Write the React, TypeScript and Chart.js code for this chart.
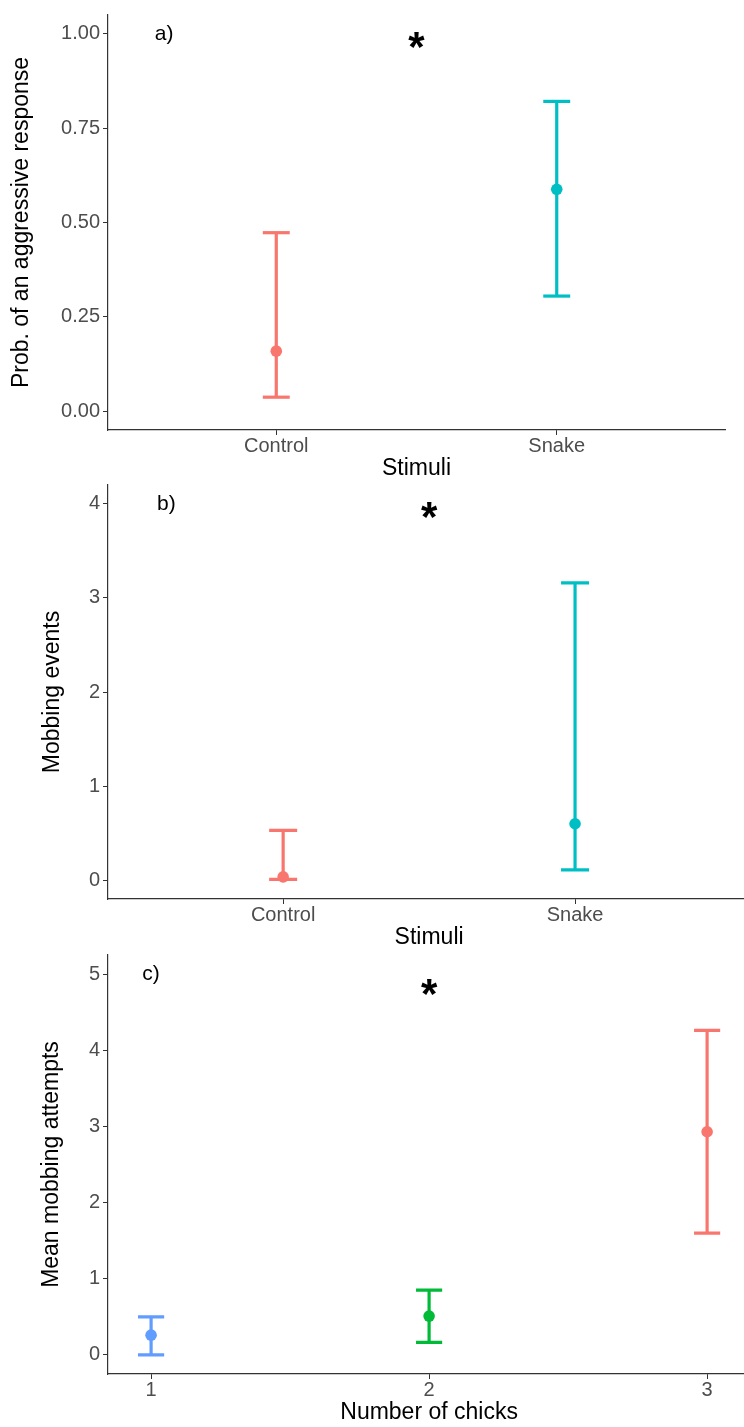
import React, { useEffect, useRef } from 'react';
import { Chart, registerables } from 'chart.js';

Chart.register(...registerables);

const FONT = "'Liberation Sans', Arial, Helvetica, sans-serif";

// ---------- Data ----------
// Panel a) Probability of an aggressive response by stimulus
const stimuliCategories = ['Control', 'Snake'];
const stimuliPositions = [1, 2];
const stimuliColors = ['#F8766D', '#00BFC4'];
const aggressiveMean = [0.159, 0.588];
const aggressiveLower = [0.037, 0.305];
const aggressiveUpper = [0.473, 0.821];
const aggressiveTicks = [0, 0.25, 0.5, 0.75, 1.0];

// Panel b) Mobbing events by stimulus
const mobbingMean = [0.035, 0.6];
const mobbingLower = [0.008, 0.11];
const mobbingUpper = [0.53, 3.16];
const mobbingTicks = [0, 1, 2, 3, 4];

// Panel c) Mean mobbing attempts by number of chicks
const chicksCategories = ['1', '2', '3'];
const chicksPositions = [1, 2, 3];
const chicksColors = ['#619CFF', '#00BA38', '#F8766D'];
const attemptsMean = [0.26, 0.51, 2.93];
const attemptsLower = [0.0, 0.165, 1.6];
const attemptsUpper = [0.5, 0.85, 4.26];
const attemptsTicks = [0, 1, 2, 3, 4, 5];

type PanelSpec = {
  top: number;
  height: number;
  width: number;
  padTop: number;
  padRight: number;
  xMin: number;
  xMax: number;
  xPos: number[];
  xLabels: string[];
  yMin: number;
  yMax: number;
  yTicks: number[];
  yDecimals: number;
  yTitle: string;
  yTitlePad: number;
  xTitle: string;
  xTitlePad: number;
  xAxisHeight: number;
  mean: number[];
  lower: number[];
  upper: number[];
  colors: string[];
  tag: string;
  tagX: number;
  tagY: number;
  starX: number;
  starY: number;
  capHalf: number;
};

const panels: PanelSpec[] = [
  {
    top: 0, height: 490, width: 744, padTop: 9, padRight: 19,
    xMin: 0.4, xMax: 2.6, xPos: stimuliPositions, xLabels: stimuliCategories,
    yMin: -0.05, yMax: 1.05, yTicks: aggressiveTicks, yDecimals: 2,
    yTitle: 'Prob. of an aggressive response', yTitlePad: 8.2,
    xTitle: 'Stimuli', xTitlePad: 7.2, xAxisHeight: 60,
    mean: aggressiveMean, lower: aggressiveLower, upper: aggressiveUpper, colors: stimuliColors,
    tag: 'a)', tagX: 0.6, tagY: 1.0, starX: 1.5, starY: 0.958, capHalf: 0.048,
  },
  {
    top: 470, height: 490, width: 756, padTop: 9, padRight: 1,
    xMin: 0.4, xMax: 2.6, xPos: stimuliPositions, xLabels: stimuliCategories,
    yMin: -0.2, yMax: 4.2, yTicks: mobbingTicks, yDecimals: 0,
    yTitle: 'Mobbing events', yTitlePad: 39.2,
    xTitle: 'Stimuli', xTitlePad: 8.2, xAxisHeight: 61,
    mean: mobbingMean, lower: mobbingLower, upper: mobbingUpper, colors: stimuliColors,
    tag: 'b)', tagX: 0.6, tagY: 4.0, starX: 1.5, starY: 3.83, capHalf: 0.048,
  },
  {
    top: 940, height: 487, width: 756, padTop: 13, padRight: 2,
    xMin: 0.845, xMax: 3.155, xPos: chicksPositions, xLabels: chicksCategories,
    yMin: -0.25, yMax: 5.25, yTicks: attemptsTicks, yDecimals: 0,
    yTitle: 'Mean mobbing attempts', yTitlePad: 38.2,
    xTitle: 'Number of chicks', xTitlePad: 0.2, xAxisHeight: 53,
    mean: attemptsMean, lower: attemptsLower, upper: attemptsUpper, colors: chicksColors,
    tag: 'c)', tagX: 1.0, tagY: 5.0, starX: 2.0, starY: 4.71, capHalf: 0.047,
  },
];

function buildChart(canvas: HTMLCanvasElement, p: PanelSpec) {
  const datasets: any[] = [];
  datasets.push({
    type: 'scatter',
    data: p.xPos.map((x, i) => ({ x, y: p.mean[i] })),
    pointRadius: 5.8,
    pointHoverRadius: 5.8,
    pointBorderWidth: 0,
    pointBackgroundColor: p.colors,
    backgroundColor: p.colors,
    borderColor: p.colors,
    showLine: false,
  });
  p.xPos.forEach((x, i) => {
    const base = {
      type: 'line',
      borderColor: p.colors[i],
      borderWidth: 3.2,
      pointRadius: 0,
      pointHoverRadius: 0,
      fill: false,
      tension: 0,
      borderCapStyle: 'butt',
    };
    datasets.push({ ...base, data: [{ x, y: p.lower[i] }, { x, y: p.upper[i] }] });
    datasets.push({ ...base, data: [{ x: x - p.capHalf, y: p.upper[i] }, { x: x + p.capHalf, y: p.upper[i] }] });
    datasets.push({ ...base, data: [{ x: x - p.capHalf, y: p.lower[i] }, { x: x + p.capHalf, y: p.lower[i] }] });
  });

  const annot = {
    id: 'annot',
    afterDatasetsDraw(chart: any) {
      const { ctx, scales } = chart;
      const xs = scales.x;
      const ys = scales.y;
      ctx.save();
      ctx.textAlign = 'center';
      ctx.textBaseline = 'middle';
      ctx.fillStyle = '#000000';
      ctx.font = `21px ${FONT}`;
      ctx.fillText(p.tag, xs.getPixelForValue(p.tagX), ys.getPixelForValue(p.tagY));
      ctx.font = `bold 42px ${FONT}`;
      ctx.fillText('*', xs.getPixelForValue(p.starX), ys.getPixelForValue(p.starY));
      ctx.restore();
    },
  };

  return new Chart(canvas, {
    type: 'line',
    data: { datasets },
    options: {
      animation: false,
      responsive: false,
      maintainAspectRatio: false,
      devicePixelRatio: 1,
      events: [],
      layout: { padding: { top: p.padTop, right: p.padRight, left: 0, bottom: 0 } },
      plugins: {
        legend: { display: false },
        tooltip: { enabled: false },
      },
      scales: {
        x: {
          type: 'linear',
          min: p.xMin,
          max: p.xMax,
          afterBuildTicks: (s: any) => {
            s.ticks = p.xPos.map((v) => ({ value: v }));
          },
          afterFit: (s: any) => {
            s.height = p.xAxisHeight;
          },
          ticks: {
            callback: (_v: any, i: number) => p.xLabels[i],
            font: { family: FONT, size: 20 },
            color: '#4D4D4D',
            padding: -1,
            maxRotation: 0,
            autoSkip: false,
          },
          grid: {
            display: true,
            drawOnChartArea: false,
            drawTicks: true,
            tickLength: 5,
            color: '#333333',
            lineWidth: 1,
          },
          border: { display: true, color: '#333333', width: 1.2 },
          title: {
            display: true,
            text: p.xTitle,
            font: { family: FONT, size: 23 },
            color: '#000000',
            padding: { top: 0, bottom: p.xTitlePad },
          },
        },
        y: {
          type: 'linear',
          min: p.yMin,
          max: p.yMax,
          afterBuildTicks: (s: any) => {
            s.ticks = p.yTicks.map((v) => ({ value: v }));
          },
          afterFit: (s: any) => {
            s.width = 108;
          },
          ticks: {
            callback: (v: any) => Number(v).toFixed(p.yDecimals),
            font: { family: FONT, size: 20 },
            color: '#4D4D4D',
            padding: 3,
            autoSkip: false,
          },
          grid: {
            display: true,
            drawOnChartArea: false,
            drawTicks: true,
            tickLength: 5,
            color: '#333333',
            lineWidth: 1,
          },
          border: { display: true, color: '#333333', width: 1.2 },
          title: {
            display: true,
            text: p.yTitle,
            font: { family: FONT, size: 23 },
            color: '#000000',
            padding: { top: p.yTitlePad, bottom: 0 },
          },
        },
      },
    },
    plugins: [annot],
  } as any);
}

export default function App() {
  const refs = [
    useRef<HTMLCanvasElement>(null),
    useRef<HTMLCanvasElement>(null),
    useRef<HTMLCanvasElement>(null),
  ];

  useEffect(() => {
    const charts = panels.map((p, i) => buildChart(refs[i].current as HTMLCanvasElement, p));
    return () => {
      charts.forEach((c) => c.destroy());
    };
  }, []);

  return (
    <div
      style={{
        position: 'absolute',
        left: 0,
        top: 0,
        width: 744,
        height: 1427,
        overflow: 'hidden',
        background: '#ffffff',
      }}
    >
      {panels.map((p, i) => (
        <canvas
          key={i}
          ref={refs[i]}
          width={p.width}
          height={p.height}
          style={{
            position: 'absolute',
            left: 0,
            top: p.top,
            width: p.width,
            height: p.height,
          }}
        />
      ))}
    </div>
  );
}
